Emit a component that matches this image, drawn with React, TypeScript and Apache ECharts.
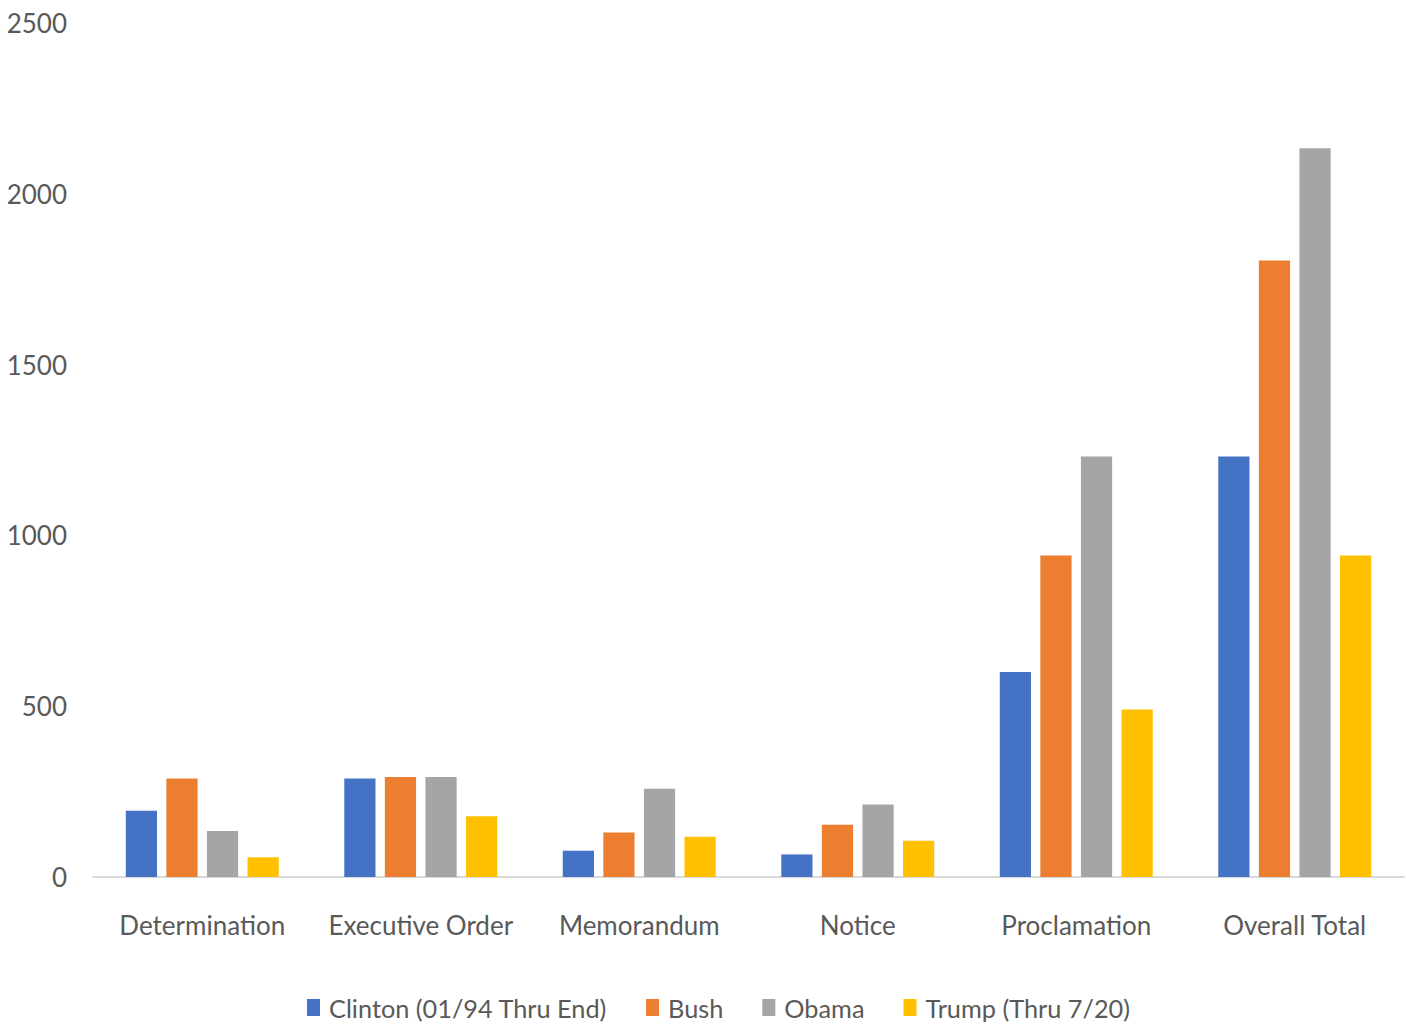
import React, { useEffect, useRef } from "react";
import * as echarts from "echarts";

const categories = ["Determination", "Executive Order", "Memorandum", "Notice", "Proclamation", "Overall Total"];
const seriesNames = ["Clinton (01/94 Thru End)", "Bush", "Obama", "Trump (Thru 7/20)"];
const clinton = [194, 288, 77, 66, 600, 1231];
const bush = [288, 293, 130, 153, 941, 1805];
const obama = [135, 293, 258, 212, 1231, 2133];
const trump = [58, 178, 118, 106, 490, 941];
const colors = ["#4472C4", "#ED7D31", "#A5A5A5", "#FFC000"];
const yMin = 0;
const yMax = 2500;
const yInterval = 500;

const FONT = "Lato, 'Liberation Sans', sans-serif";

export default function App() {
  const ref = useRef<HTMLDivElement>(null);
  useEffect(() => {
    if (!ref.current) return;
    const chart = echarts.init(ref.current, null, { renderer: "svg" });
    const data = [clinton, bush, obama, trump];
    chart.setOption({
      animation: false,
      backgroundColor: "#ffffff",
      color: colors,
      textStyle: { fontFamily: FONT },
      grid: { left: 93, right: 2, top: 23, bottom: 149, containLabel: false, outerBoundsMode: "none" },
      legend: {
        data: seriesNames,
        top: 990,
        left: 302,
        itemWidth: 13,
        itemHeight: 17,
        itemGap: 39,
        icon: "rect",
        textStyle: { fontFamily: FONT, fontSize: 25.3, color: "#595959", padding: [0, 0, 0, 4] },
      },
      xAxis: {
        type: "category",
        data: categories,
        axisLine: { show: true, lineStyle: { color: "#D9D9D9", width: 2 } },
        axisTick: { show: false },
        axisLabel: { fontFamily: FONT, fontSize: 26, color: "#595959", margin: 35, interval: 0 },
        splitLine: { show: false },
      },
      yAxis: {
        type: "value",
        min: yMin,
        max: yMax,
        interval: yInterval,
        axisLine: { show: false },
        axisTick: { show: false },
        splitLine: { show: false },
        axisLabel: {
          fontFamily: FONT,
          fontSize: 26,
          color: "#595959",
          margin: 26,
          formatter: (v: number) => String(v),
        },
      },
      series: seriesNames.map((name, i) => ({
        name,
        type: "bar",
        data: data[i],
        barGap: "30%",
        barCategoryGap: "30%",
        itemStyle: { color: colors[i] },
      })),
    });
    return () => chart.dispose();
  }, []);
  return (
    <div
      ref={ref}
      style={{ position: "fixed", left: 0, top: 0, width: 1406, height: 1026, background: "#fff" }}
    />
  );
}
